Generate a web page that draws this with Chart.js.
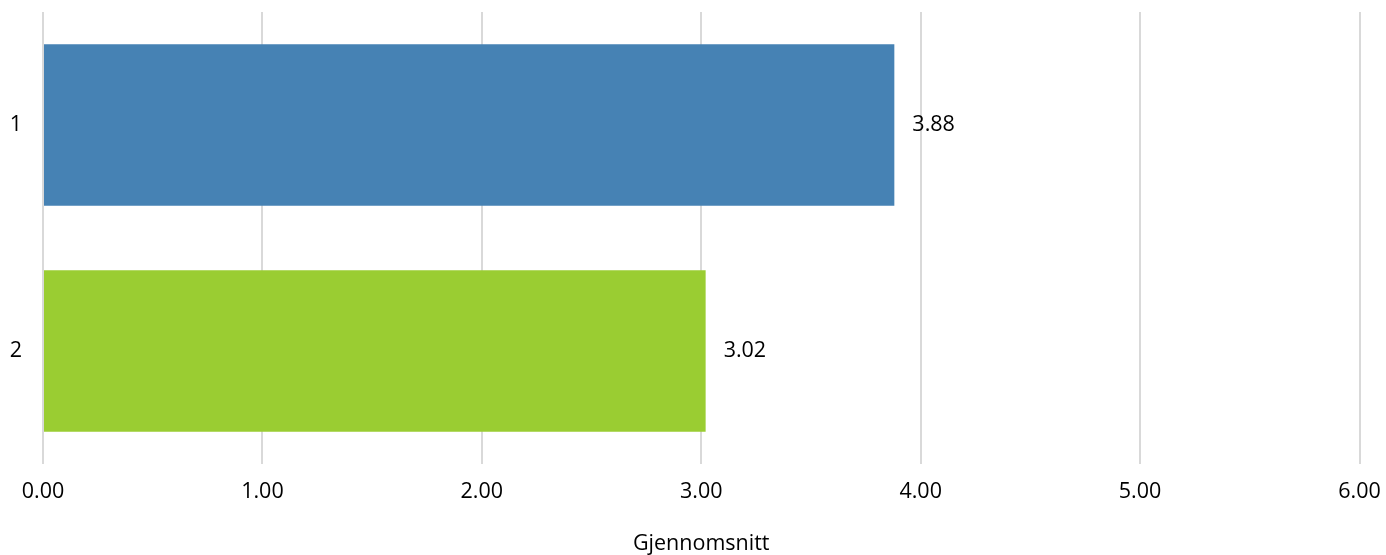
<!DOCTYPE html>
<html>
<head>
<meta charset="utf-8">
<script src="https://cdn.jsdelivr.net/npm/chart.js@4/dist/chart.umd.min.js"></script>
<style>
  html, body { margin: 0; padding: 0; background: #ffffff; }
  #wrap { width: 1386px; height: 555px; position: relative; }
</style>
</head>
<body>
<div id="wrap"><canvas id="c"></canvas></div>
<script>
const categories = ["1", "2"];
const values = [3.88, 3.02];
const barColors = ["#4682B4", "#9ACD32"];
const xTicks = [0, 1, 2, 3, 4, 5, 6];
const xTitle = "Gjennomsnitt";

const FONT = "'Open Sans', 'Noto Sans', sans-serif";

const valueLabels = {
  id: 'valueLabels',
  afterDatasetsDraw(chart) {
    const ctx = chart.ctx;
    const meta = chart.getDatasetMeta(0);
    ctx.save();
    ctx.font = "21.5px " + FONT;
    ctx.fillStyle = "#000000";
    ctx.textAlign = "left";
    ctx.textBaseline = "middle";
    meta.data.forEach((bar, i) => {
      ctx.fillText(values[i].toFixed(2), bar.x + 18, bar.y);
    });
    ctx.restore();
  }
};

new Chart(document.getElementById('c'), {
  type: 'bar',
  data: {
    labels: categories,
    datasets: [{
      data: values,
      backgroundColor: barColors,
      borderWidth: 0,
      barPercentage: 0.715,
      categoryPercentage: 1.0
    }]
  },
  options: {
    indexAxis: 'y',
    responsive: true,
    maintainAspectRatio: false,
    animation: false,
    layout: { padding: { top: 12, right: 26.5, left: 0, bottom: 0 } },
    plugins: {
      legend: { display: false },
      tooltip: { enabled: false }
    },
    scales: {
      x: {
        min: 0,
        max: 6,
        afterBuildTicks(scale) {
          scale.ticks = xTicks.map(v => ({ value: v }));
        },
        afterFit(scale) {
          scale.height = 91;
          scale.paddingLeft = 0;
          scale.paddingRight = 0;
        },
        border: { display: false },
        grid: {
          color: "#d9d9d9",
          lineWidth: 2,
          drawTicks: false
        },
        ticks: {
          padding: 15,
          color: "#000000",
          font: { family: FONT, size: 21.5 },
          maxRotation: 0,
          callback: (v) => Number(v).toFixed(2)
        },
        title: {
          display: true,
          text: xTitle,
          color: "#000000",
          font: { family: FONT, size: 21.5, lineHeight: 1.0 },
          padding: { top: 0, bottom: 0 }
        }
      },
      y: {
        afterFit(scale) {
          scale.width = 43;
          scale.paddingTop = 0;
          scale.paddingBottom = 0;
        },
        border: { display: false },
        grid: { display: false, drawTicks: false },
        ticks: {
          padding: 21,
          color: "#000000",
          font: { family: FONT, size: 21.5 }
        }
      }
    }
  },
  plugins: [valueLabels]
});
</script>
</body>
</html>
